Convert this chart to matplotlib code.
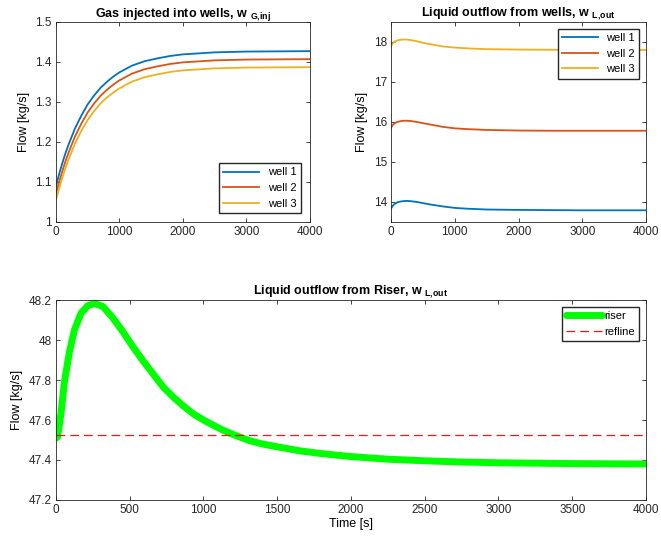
import matplotlib
matplotlib.use("Agg")
import matplotlib.pyplot as plt

plt.rcParams['font.family'] = ['Liberation Sans', 'DejaVu Sans']
plt.rcParams['mathtext.fontset'] = 'custom'
plt.rcParams['mathtext.rm'] = 'Liberation Sans:bold'
plt.rcParams['mathtext.default'] = 'rm'

# ---- data ----
t_gas = [0, 50, 100, 150, 200, 300, 400, 500, 600, 700, 800, 900, 1000,
         1200, 1400, 1600, 1800, 2000, 2500, 3000, 3500, 4000]
gas_w1 = [1.090, 1.120, 1.147, 1.172, 1.194, 1.234, 1.266, 1.294, 1.316, 1.335, 1.350,
          1.363, 1.374, 1.391, 1.402, 1.409, 1.415, 1.419, 1.424, 1.426, 1.4265, 1.427]
gas_w2 = [1.070, 1.100, 1.127, 1.152, 1.174, 1.214, 1.246, 1.274, 1.296, 1.315, 1.330,
          1.343, 1.354, 1.371, 1.382, 1.389, 1.395, 1.399, 1.404, 1.406, 1.4065, 1.407]
gas_w3 = [1.055, 1.084, 1.111, 1.135, 1.157, 1.196, 1.228, 1.255, 1.277, 1.296, 1.311,
          1.323, 1.334, 1.351, 1.362, 1.369, 1.375, 1.379, 1.384, 1.386, 1.3865, 1.387]

t_liq = [0, 25, 50, 100, 150, 200, 250, 300, 400, 500, 600, 800, 1000,
         1200, 1500, 2000, 2500, 3000, 3500, 4000]
liq_w1 = [13.83, 13.90, 13.94, 13.99, 14.01, 14.02, 14.025, 14.02, 14.00, 13.97, 13.94,
          13.89, 13.85, 13.83, 13.81, 13.80, 13.795, 13.79, 13.79, 13.79]
liq_w2 = [15.85, 15.92, 15.96, 16.00, 16.02, 16.03, 16.03, 16.025, 16.00, 15.97, 15.94,
          15.88, 15.84, 15.82, 15.80, 15.785, 15.78, 15.78, 15.78, 15.78]
liq_w3 = [17.89, 17.96, 18.00, 18.04, 18.055, 18.06, 18.06, 18.05, 18.02, 17.98, 17.95,
          17.89, 17.86, 17.84, 17.82, 17.81, 17.805, 17.80, 17.80, 17.80]

t_riser = [0, 10, 20, 35, 57, 91, 125, 170, 216, 261, 318, 386, 455, 523, 591, 659,
           727, 795, 864, 932, 1000, 1068, 1136, 1210, 1311, 1400, 1500, 1651, 1800,
           2000, 2250, 2500, 2750, 3000, 3500, 4000]
riser = [47.51, 47.515, 47.56, 47.64, 47.79, 47.94, 48.05, 48.135, 48.172, 48.183,
         48.168, 48.11, 48.04, 47.965, 47.895, 47.83, 47.765, 47.715, 47.67, 47.63,
         47.60, 47.573, 47.548, 47.525, 47.497, 47.48, 47.466, 47.446, 47.432,
         47.417, 47.404, 47.396, 47.39, 47.386, 47.382, 47.38]
refline = 47.525

labels = ['well 1', 'well 2', 'well 3']
colors = ['#0072BD', '#D95319', '#EDB120']

fig = plt.figure(figsize=(6.61, 5.36), dpi=100)
ax1 = fig.add_axes([0.0847, 0.586, 0.384, 0.373])
ax2 = fig.add_axes([0.5915, 0.586, 0.386, 0.373])
ax3 = fig.add_axes([0.0847, 0.0672, 0.8926, 0.373])


def style(ax):
    ax.tick_params(direction='in', top=True, right=True, labelsize=8.5,
                   length=3, width=0.6, colors='#262626', pad=3)
    for s in ax.spines.values():
        s.set_linewidth(0.6)
        s.set_color('#262626')


for ys, lab, c in zip([gas_w1, gas_w2, gas_w3], labels, colors):
    ax1.plot(t_gas, ys, color=c, lw=1.3, label=lab)
ax1.set_xlim(0, 4000)
ax1.set_ylim(1, 1.5)
ax1.set_xticks([0, 1000, 2000, 3000, 4000])
ax1.set_yticks([1, 1.1, 1.2, 1.3, 1.4, 1.5])
ax1.set_yticklabels(['1', '1.1', '1.2', '1.3', '1.4', '1.5'])
ax1.set_ylabel('Flow [kg/s]', fontsize=9)
ax1.set_title(r'Gas injected into wells, w $_{G{,}inj}$', fontsize=9, fontweight='bold', pad=4)
ax1.legend(loc='lower right', fontsize=8, frameon=True, fancybox=False,
           edgecolor='#262626', framealpha=1, handlelength=3.2, borderaxespad=0.8)
style(ax1)

for ys, lab, c in zip([liq_w1, liq_w2, liq_w3], labels, colors):
    ax2.plot(t_liq, ys, color=c, lw=1.3, label=lab)
ax2.set_xlim(0, 4000)
ax2.set_ylim(13.5, 18.5)
ax2.set_xticks([0, 1000, 2000, 3000, 4000])
ax2.set_yticks([14, 15, 16, 17, 18])
ax2.set_ylabel('Flow [kg/s]', fontsize=9)
ax2.set_title(r'Liquid outflow from wells, w $_{L{,}out}$', fontsize=9, fontweight='bold', pad=4)
ax2.legend(loc='upper right', fontsize=8, frameon=True, fancybox=False,
           edgecolor='#262626', framealpha=1, handlelength=3.2, borderaxespad=0.6)
style(ax2)

ax3.plot(t_riser, riser, color='#00FF00', lw=5, label='riser', solid_capstyle='round',
         solid_joinstyle='round')
ax3.axhline(refline, color='#E8191C', lw=0.9, ls=(0, (7, 4)), label='refline')
ax3.set_xlim(0, 4000)
ax3.set_ylim(47.2, 48.2)
ax3.set_xticks(range(0, 4001, 500))
ax3.set_yticks([47.2, 47.4, 47.6, 47.8, 48, 48.2])
ax3.set_yticklabels(['47.2', '47.4', '47.6', '47.8', '48', '48.2'])
ax3.set_ylabel('Flow [kg/s]', fontsize=9)
ax3.set_xlabel('Time [s]', fontsize=9, labelpad=1)
ax3.set_title(r'Liquid outflow from Riser, w $_{L{,}out}$', fontsize=9, fontweight='bold', pad=4)
ax3.legend(loc='upper right', fontsize=8, frameon=True, fancybox=False,
           edgecolor='#262626', framealpha=1, handlelength=3.2, borderaxespad=0.6,
           handletextpad=0.2)
style(ax3)

fig.savefig('out.png', dpi=100)
